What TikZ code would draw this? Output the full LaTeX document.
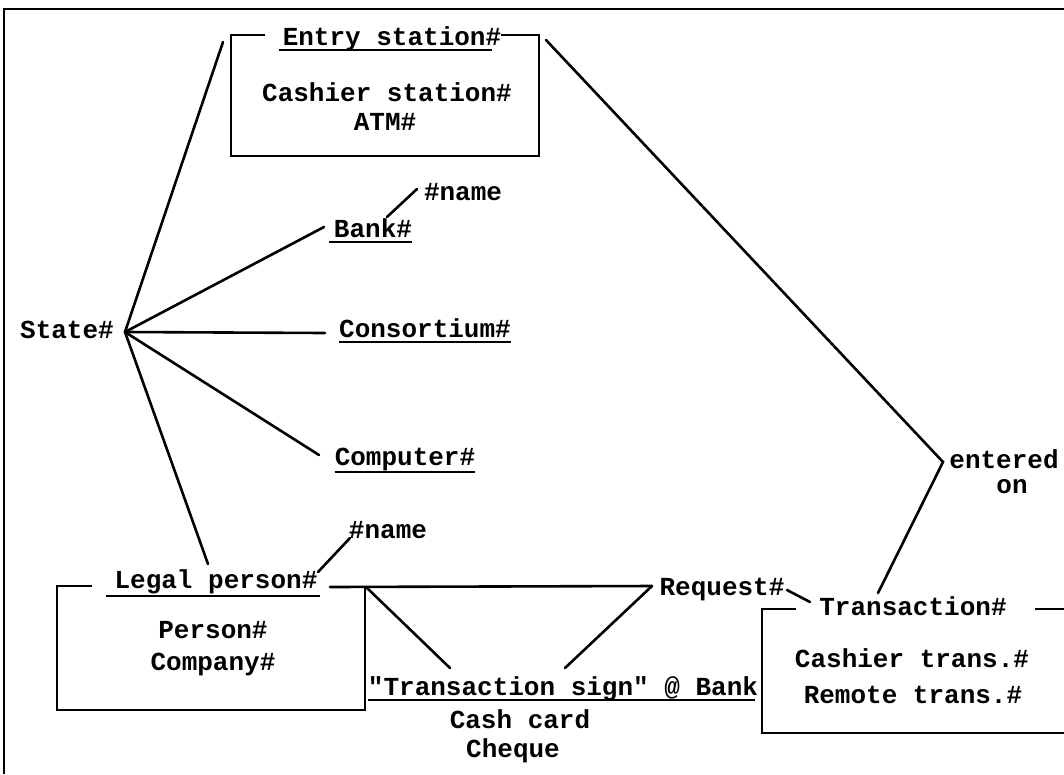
\documentclass[tikz,border=0pt]{standalone}
\usepackage{fontspec}
\setmonofont{Liberation Mono}
\begin{document}
\begin{tikzpicture}[x=1pt,y=-1pt,
  lbl/.style={font=\ttfamily\bfseries\fontsize{26}{28}\selectfont, inner sep=0pt, anchor=base},
  wire/.style={line width=2.6pt, line cap=round},
  frame/.style={line width=2.6pt, line join=miter},
  ul/.style={line width=2.6pt}]
\useasboundingbox (0,0) rectangle (1064,774);

% page frame
\draw[frame] (4,774) -- (4,9) -- (1064,9);

% ---- labels ----
\node[lbl] (entry)   at (392,45)  {Entry station\#};
\node[lbl] (cst)     at (387,101) {Cashier station\#};
\node[lbl] (atm)     at (385,130) {ATM\#};
\node[lbl] (state)   at (67,338)  {State\#};
\node[lbl] (bank)    at (373,237) {Bank\#};
\node[lbl] (bname)   at (463,200) {\#name};
\node[lbl] (cons)    at (425,337) {Consortium\#};
\node[lbl] (comp)    at (405,465) {Computer\#};
\node[lbl] (legal)   at (216,588) {Legal person\#};
\node[lbl] (lname)   at (388,538) {\#name};
\node[lbl] (person)  at (213,638) {Person\#};
\node[lbl] (company) at (213,670) {Company\#};
\node[lbl] (tsign)   at (563,695) {"Transaction sign" @ Bank};
\node[lbl] (cash)    at (520,728) {Cash card};
\node[lbl] (cheque)  at (513,757) {Cheque};
\node[lbl] (req)     at (722,595) {Request\#};
\node[lbl] (trans)   at (913,615) {Transaction\#};
\node[lbl] (ctr)     at (912,667) {Cashier trans.\#};
\node[lbl] (rtr)     at (913,703) {Remote trans.\#};
\node[lbl] (ent)     at (1004,468) {entered};
\node[lbl] (on)      at (1012,493) {on};

% underlines
\draw[ul] ([shift={(-4,5)}]entry.base west) -- ([shift={(-9,5)}]entry.base east);
\draw[ul] ([shift={(-5,5)}]bank.base west) -- ([shift={(0,5)}]bank.base east);
\draw[ul] ([shift={(0,5)}]cons.base west) -- ([shift={(0,5)}]cons.base east);
\draw[ul] ([shift={(0,7)}]comp.base west) -- ([shift={(0,7)}]comp.base east);
\draw[ul] ([shift={(-8,8)}]legal.base west) -- ([shift={(2,8)}]legal.base east);
\draw[ul] ([shift={(0,5)}]tsign.base west) -- ([shift={(-3,5)}]tsign.base east);

% ---- boxes ----
\draw[frame] (265,35) -- (231,35) -- (231,156) -- (539,156) -- (539,35) -- (entry.base east |- 0,35);
\draw[frame] (92,586) -- (57,586) -- (57,710) -- (365,710) -- (365,586);
\draw[frame] (796,609) -- (762,609) -- (762,733) -- (1064,733);
\draw[frame] (1035,609) -- (1064,609);

% ---- connector end points ----
\coordinate (hub) at (125,332);
\coordinate (eA) at (223,42);
\coordinate (bA) at (324,227);
\coordinate (cA) at (325,333);
\coordinate (pA) at (319,455);
\coordinate (lA) at (208,564);
\coordinate (bN1) at (387,217);
\coordinate (bN2) at (417,189);
\coordinate (lN1) at (318,572);
\coordinate (lN2) at (350,538);
\coordinate (lR) at (330,587);
\coordinate (lC) at (366,587);
\coordinate (rq) at (652,586);
\coordinate (tsL) at (450,668);
\coordinate (tsR) at (565,668);
\coordinate (rqT1) at (787,590);
\coordinate (rqT2) at (810,602);
\coordinate (eS) at (546,40);
\coordinate (eo) at (943,462);
\coordinate (tU) at (878,593);

% ---- connectors ----
\draw[wire] (hub) -- (eA);
\draw[wire] (hub) -- (bA);
\draw[wire] (hub) -- (cA);
\draw[wire] (hub) -- (pA);
\draw[wire] (hub) -- (lA);
\draw[wire] (bN1) -- (bN2);
\draw[wire] (lN1) -- (lN2);
\draw[wire] (lR) -- (rq);
\draw[wire] (lC) -- (tsL);
\draw[wire] (rq) -- (tsR);
\draw[wire] (rqT1) -- (rqT2);
\draw[wire] (eS) -- (eo) -- (tU);
\end{tikzpicture}
\end{document}
